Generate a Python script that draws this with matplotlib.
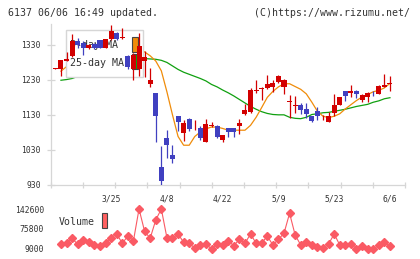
import matplotlib
matplotlib.use("Agg")
import matplotlib.pyplot as plt
from matplotlib.patches import Rectangle
import numpy as np

# ---------------- data ----------------
dates = ["3/8", "3/11", "3/12", "3/13", "3/14", "3/15", "3/18", "3/19", "3/21", "3/22",
         "3/25", "3/26", "3/27", "3/28", "3/29", "4/1", "4/2", "4/3", "4/4", "4/5",
         "4/8", "4/9", "4/10", "4/11", "4/12", "4/15", "4/16", "4/17", "4/18", "4/19",
         "4/22", "4/23", "4/24", "4/25", "4/26", "4/30", "5/1", "5/2", "5/7", "5/8",
         "5/9", "5/10", "5/13", "5/14", "5/15", "5/16", "5/17", "5/20", "5/21", "5/22",
         "5/23", "5/24", "5/27", "5/28", "5/29", "5/30", "5/31", "6/3", "6/4", "6/5", "6/6"]

opens = [1261, 1262, 1284, 1297, 1340, 1337, 1322, 1334, 1343, 1322,
         1346, 1363, 1350, 1298, 1262, 1260, 1284, 1217, 1192, 981,
         1064, 1014, 1126, 1078, 1119, 1097, 1093, 1052, 1099, 1097,
         1057, 1092, 1091, 1097, 1131, 1138, 1199, 1203, 1208, 1211,
         1224, 1210, 1168, 1156, 1157, 1146, 1126, 1140, 1120, 1109,
         1136, 1157, 1197, 1192, 1197, 1173, 1181, 1191, 1191, 1210, 1218]
highs = [1263, 1288, 1310, 1360, 1351, 1340, 1333, 1336, 1345, 1348,
         1386, 1366, 1378, 1302, 1306, 1364, 1312, 1264, 1193, 1040,
         1088, 1043, 1127, 1115, 1120, 1116, 1098, 1119, 1109, 1100,
         1073, 1093, 1093, 1117, 1160, 1206, 1229, 1210, 1243, 1230,
         1245, 1233, 1186, 1183, 1164, 1164, 1127, 1151, 1129, 1138,
         1189, 1181, 1199, 1214, 1201, 1190, 1195, 1197, 1216, 1246, 1240]
lows = [1261, 1240, 1283, 1296, 1322, 1302, 1318, 1318, 1320, 1320,
        1343, 1345, 1346, 1262, 1230, 1240, 1238, 1211, 1052, 930,
        1006, 992, 1084, 1055, 1084, 1088, 1059, 1052, 1095, 1064,
        1052, 1066, 1066, 1076, 1129, 1136, 1192, 1173, 1204, 1195,
        1222, 1189, 1122, 1136, 1131, 1121, 1109, 1114, 1114, 1109,
        1128, 1157, 1171, 1181, 1178, 1167, 1168, 1185, 1190, 1210, 1197]
closes = [1262, 1286, 1291, 1340, 1329, 1322, 1331, 1322, 1322, 1346,
          1369, 1347, 1352, 1268, 1300, 1327, 1296, 1231, 1126, 941,
          1043, 1003, 1109, 1108, 1089, 1099, 1064, 1103, 1101, 1066,
          1071, 1082, 1081, 1106, 1145, 1202, 1201, 1208, 1217, 1221,
          1240, 1231, 1170, 1158, 1145, 1131, 1112, 1128, 1122, 1128,
          1157, 1181, 1184, 1197, 1189, 1186, 1192, 1189, 1213, 1216, 1220]

ma5 = [None, 1255, 1268, 1285, 1300, 1312, 1322, 1328, 1332, 1333,
       1340, 1343, 1349, 1340, 1326, 1318, 1310, 1299, 1284, 1256,
       1196, 1130, 1068, 1043, 1043, 1068, 1081, 1090, 1095, 1095,
       1091, 1086, 1086, 1086, 1086, 1100, 1123, 1151, 1180, 1197,
       1210, 1219, 1219, 1211, 1203, 1190, 1166, 1140, 1126, 1122,
       1126, 1133, 1147, 1159, 1171, 1181, 1188, 1196, 1200, 1207, 1220]
ma25 = [None, 1229, 1231, 1234, 1240, 1248, 1256, 1263, 1270, 1276,
        1282, 1286, 1289, 1291, 1292, 1292, 1291, 1290, 1289, 1286,
        1280, 1270, 1260, 1252, 1246, 1240, 1234, 1227, 1217, 1210,
        1201, 1193, 1184, 1174, 1164, 1154, 1146, 1139, 1134, 1131,
        1130, 1130, 1123, 1120, 1119, 1123, 1131, 1133, 1136, 1137,
        1140, 1143, 1146, 1150, 1154, 1157, 1160, 1166, 1170, 1176, 1179]

# volume for dates[1:]
volume = [22700, 25100, 42200, 21700, 36400, 30600, 19300, 15900, 25100, 44300,
          57000, 25100, 50100, 34000, 142600, 66200, 42200, 104900, 142600, 44300,
          42200, 57000, 28500, 25100, 9000, 19300, 22700, 6000, 22700, 19300,
          33000, 17000, 38800, 25100, 57000, 25100, 25100, 50100, 19300, 38800,
          59300, 127900, 53500, 19300, 28500, 19300, 11400, 8000, 22700, 57000,
          19300, 19300, 22700, 6000, 15900, 4500, 4500, 19300, 28500, 15900]

date_ticks = ["3/25", "4/8", "4/22", "5/9", "5/23", "6/6"]
price_ticks = [930, 1030, 1130, 1230, 1330]
vol_ticks = [9000, 75800, 142600]

# ---------------- styling ----------------
W, H = 420, 259
RED = "#d20000"
BLUE = "#4040c0"
ORANGE = "#f08c0a"
GREEN = "#10a010"
GRAY = "#d6d6d6"
TXT = "#333333"
VOLC = "#fa5a64"
MONO = "DejaVu Sans Mono"

def fx(px):
    return px / W

def fy(py):
    return 1 - py / H

fig = plt.figure(figsize=(4.2, 2.59), dpi=100)
fig.patch.set_facecolor("white")

x = np.arange(len(dates))
xl = (-0.84, 62.7)

ax = fig.add_axes([fx(50.7), fy(184.7), fx(405) - fx(50.7), fy(24) - fy(184.7)])
ax.set_xlim(*xl)
ax.set_ylim(930, 1390)
for s in ["top", "right"]:
    ax.spines[s].set_visible(False)
for s in ["left", "bottom"]:
    ax.spines[s].set_color(GRAY)
    ax.spines[s].set_linewidth(0.9)

o = np.array(opens, float)
c = np.array(closes, float)
hi = np.array(highs, float)
lo = np.array(lows, float)
up = c >= o
col = np.where(up, RED, BLUE)

# MA lines (under the legend box)
ax.plot(x, np.array(ma25, dtype=float), color=GREEN, lw=0.9, zorder=1)
ax.plot(x, np.array(ma5, dtype=float), color=ORANGE, lw=0.9, zorder=1)

# legend box
ax.add_patch(Rectangle((0.0423, 0.670), 0.2182, 0.293, transform=ax.transAxes,
                       facecolor="white", edgecolor=GRAY, lw=1.0, zorder=2, clip_on=False))
ax.text(0.0545, 0.869, "5-day MA", transform=ax.transAxes, fontsize=7.2, family=MONO,
        color=TXT, va="center", ha="left", zorder=3)
ax.text(0.0545, 0.757, "25-day MA", transform=ax.transAxes, fontsize=7.2, family=MONO,
        color=TXT, va="center", ha="left", zorder=3)
ax.add_patch(Rectangle((0.2286, 0.826), 0.017, 0.093, transform=ax.transAxes,
                       facecolor=ORANGE, edgecolor="#444444", lw=0.8, zorder=3, clip_on=False))
ax.add_patch(Rectangle((0.2286, 0.720), 0.017, 0.093, transform=ax.transAxes,
                       facecolor=GREEN, edgecolor="#444444", lw=0.8, zorder=3, clip_on=False))

# candles
ax.vlines(x, lo, hi, colors=col, lw=0.9, zorder=4)
body_lo = np.minimum(o, c)
body_h = np.maximum(np.abs(c - o), 2.0)
ax.bar(x, body_h, bottom=body_lo, width=0.9, color=col, lw=0, zorder=5)

# axes ticks
ax.set_yticks(price_ticks)
ax.set_yticklabels([str(v) for v in price_ticks])
ax.tick_params(axis="y", direction="inout", length=6, width=0.9, color=GRAY,
               labelsize=5.8, labelcolor=TXT, pad=4.2)
for t in ax.get_yticklabels():
    t.set_family(MONO)

ax.set_xticks(np.linspace(xl[0], xl[1], 12), minor=True)
ax.tick_params(axis="x", which="minor", direction="inout", length=4, width=0.9, color=GRAY)
ax.set_xticks([dates.index(d) for d in date_ticks])
ax.set_xticklabels(date_ticks)
ax.tick_params(axis="x", which="major", length=0, labelsize=5.8, labelcolor=TXT, pad=7.0)
for t in ax.get_xticklabels():
    t.set_family(MONO)

# volume panel
vol_lo = 9000 - 7 * 3426
vol_hi = 9000 + 48 * 3426
vax = fig.add_axes([fx(50.7), fy(255), fx(405) - fx(50.7), fy(200) - fy(255)])
vax.set_xlim(*xl)
vax.set_ylim(vol_lo, vol_hi)
for s in vax.spines.values():
    s.set_visible(False)
vax.plot(x[1:], volume, color=VOLC, lw=0.8, marker="D", ms=3.6, mec=VOLC, mfc=VOLC)
vax.set_xticks([])
vax.set_yticks(vol_ticks)
vax.set_yticklabels([str(v) for v in vol_ticks])
vax.tick_params(axis="y", length=0, labelsize=5.8, labelcolor=TXT, pad=4.8)
for t in vax.get_yticklabels():
    t.set_family(MONO)
vax.patch.set_alpha(0)

fig.text(fx(58.7), fy(222), "Volume", fontsize=7.1, family=MONO, color=TXT,
         va="center", ha="left")
fig.add_artist(Rectangle((fx(101.7), fy(228)), fx(107) - fx(101.7), fy(213) - fy(228),
                         transform=fig.transFigure, facecolor="#ff6060",
                         edgecolor="#444444", lw=0.8))

# header
fig.text(fx(8), fy(13), "6137 06/06 16:49 updated.", fontsize=7.1, family=MONO,
         color=TXT, va="center", ha="left")
fig.text(fx(409.5), fy(13), "(C)https://www.rizumu.net/", fontsize=7.1, family=MONO,
         color=TXT, va="center", ha="right")

fig.savefig("out.png", dpi=100, facecolor="white")
